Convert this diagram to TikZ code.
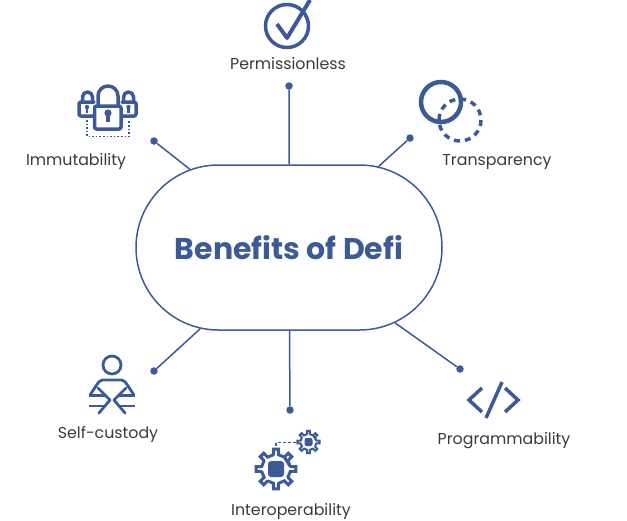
\documentclass[tikz,border=0pt]{standalone}
\usepackage{fontspec}
\setmainfont{Poppins}
\usetikzlibrary{shapes.misc, positioning, calc}

\definecolor{defiblue}{HTML}{3D5A98}
\definecolor{labelgray}{HTML}{3A3A3A}

\tikzset{
    pill/.style={rounded rectangle, draw=defiblue, line width=1.5pt, minimum width=306pt, minimum height=165pt, inner sep=0pt, text=defiblue, font=\fontsize{30}{34}\selectfont\bfseries},
    dot/.style={circle, fill=defiblue, inner sep=0pt, minimum size=7.5pt},
    spoke/.style={defiblue, line width=1.5pt},
    lbl/.style={text=labelgray, inner sep=0pt, font=\fontsize{15.8}{19}\selectfont},
    icon/.style={defiblue, line width=3.5pt, line cap=round, line join=round}
}

\newcommand{\gearicon}[5]{%
    \draw[icon, line width=#5, line join=miter, fill=white] \foreach \t in {0,45,...,315} {
        ($(#1,#2)+(\t-10:#3)$) -- ($(#1,#2)+(\t-7:#3+#4)$) -- ($(#1,#2)+(\t+7:#3+#4)$) -- ($(#1,#2)+(\t+10:#3)$) -- ($(#1,#2)+(\t+35:#3)$)
    } -- cycle;
}

\begin{document}
\begin{tikzpicture}[x=1pt, y=-1pt]
    \useasboundingbox (0,0) rectangle (627,520);

    \node[pill] (hub) at (289,247.5) {Benefits of Defi};

    \node[dot] (dperm) at (289,86) {};
    \node[dot] (dimm) at (154,141) {};
    \node[dot] (dtrans) at (410,138) {};
    \node[dot] (dself) at (154,371) {};
    \node[dot] (dinter) at (290,410) {};
    \node[dot] (dprog) at (460,369) {};

    \draw[spoke] (dperm) -- (hub);
    \draw[spoke] (dimm) -- (hub);
    \draw[spoke] (dtrans) -- (hub);
    \draw[spoke] (dself) -- (hub);
    \draw[spoke] (dinter) -- (hub);
    \draw[spoke] (dprog) -- (hub);

    \node[lbl] (lperm) at (288,64) {Permissionless};
    \node[lbl] (limm) at (76,162) {Immutability};
    \node[lbl] (ltrans) at (497,162) {Transparency};
    \node[lbl] (lself) at (108,434) {Self-custody};
    \node[lbl] (linter) at (291,512) {Interoperability};
    \node[lbl] (lprog) at (504,441) {Programmability};

    % permissionless
    \draw[icon] (287,26) circle (21.5);
    \draw[icon, line width=4pt, line cap=butt] (277,24) -- (287,38) -- (310,0);

    % immutability
    \draw[icon] (82.5,102) -- (82.5,97) arc (180:360:5) -- (92.5,102);
    \draw[icon] (123.5,102) -- (123.5,97) arc (180:360:5) -- (133.5,102);
    \draw[icon] (98,105) -- (98,96) arc (180:360:10) -- (118,105);
    \draw[icon, rounded corners=2pt] (94,102) -- (79,102) -- (79,116) -- (94,116);
    \draw[icon, rounded corners=2pt] (122,102) -- (136,102) -- (136,116) -- (122,116);
    \draw[icon, rounded corners=2pt] (94.5,106) rectangle (121,129);
    \fill[defiblue] (108,113) circle (3.6);
    \fill[defiblue] (106,114) rectangle (110,122);
    \fill[defiblue] (87,107) circle (2.2);
    \fill[defiblue] (85.8,107) rectangle (88.2,113);
    \fill[defiblue] (128.5,107) circle (2.2);
    \fill[defiblue] (127.3,107) rectangle (129.7,113);
    \draw[defiblue, line width=1.6pt, dotted] (87,120) -- (87,136.5) -- (129,136.5) -- (129,120);

    % transparency
    \draw[icon, dash pattern=on 6pt off 5pt, line cap=butt] (460,120) circle (21);
    \draw[icon, line width=4.5pt] (441,102) circle (20);

    % self-custody
    \draw[icon, line width=2.8pt] (112,365) circle (9);
    \draw[icon, line width=2.8pt, rounded corners=3pt] (90,395) -- (100,380) -- (124,380) -- (134,395);
    \draw[icon, line width=2.8pt, line cap=butt] (89,395.5) -- (106,395.5) (89,406) -- (106,406);
    \draw[icon, line width=2.8pt, line cap=butt] (135,395.5) -- (118,395.5) (135,406) -- (118,406);
    \draw[icon, line width=2.8pt] (98,388) -- (110,400) -- (99,413);
    \draw[icon, line width=2.8pt] (126,388) -- (114,400) -- (125,413);

    % interoperability
    \gearicon{276}{469}{14.5}{5.5}{3pt}
    \fill[defiblue, rounded corners=3pt] (268,461) rectangle (284,477);
    \gearicon{308.5}{442}{8}{3.2}{2pt}
    \fill[defiblue, rounded corners=2pt] (304.5,438) rectangle (312.5,446);
    \draw[defiblue, line width=1.6pt, dash pattern=on 3pt off 2pt] (276,446) -- (276,442.5) -- (297,442.5);

    % programmability
    \draw[icon, line cap=butt, line join=miter] (482,388) -- (469,400) -- (482,412);
    \draw[icon, line cap=butt] (502,382) -- (486,418);
    \draw[icon, line cap=butt, line join=miter] (505,388) -- (518,400) -- (505,412);
\end{tikzpicture}
\end{document}
